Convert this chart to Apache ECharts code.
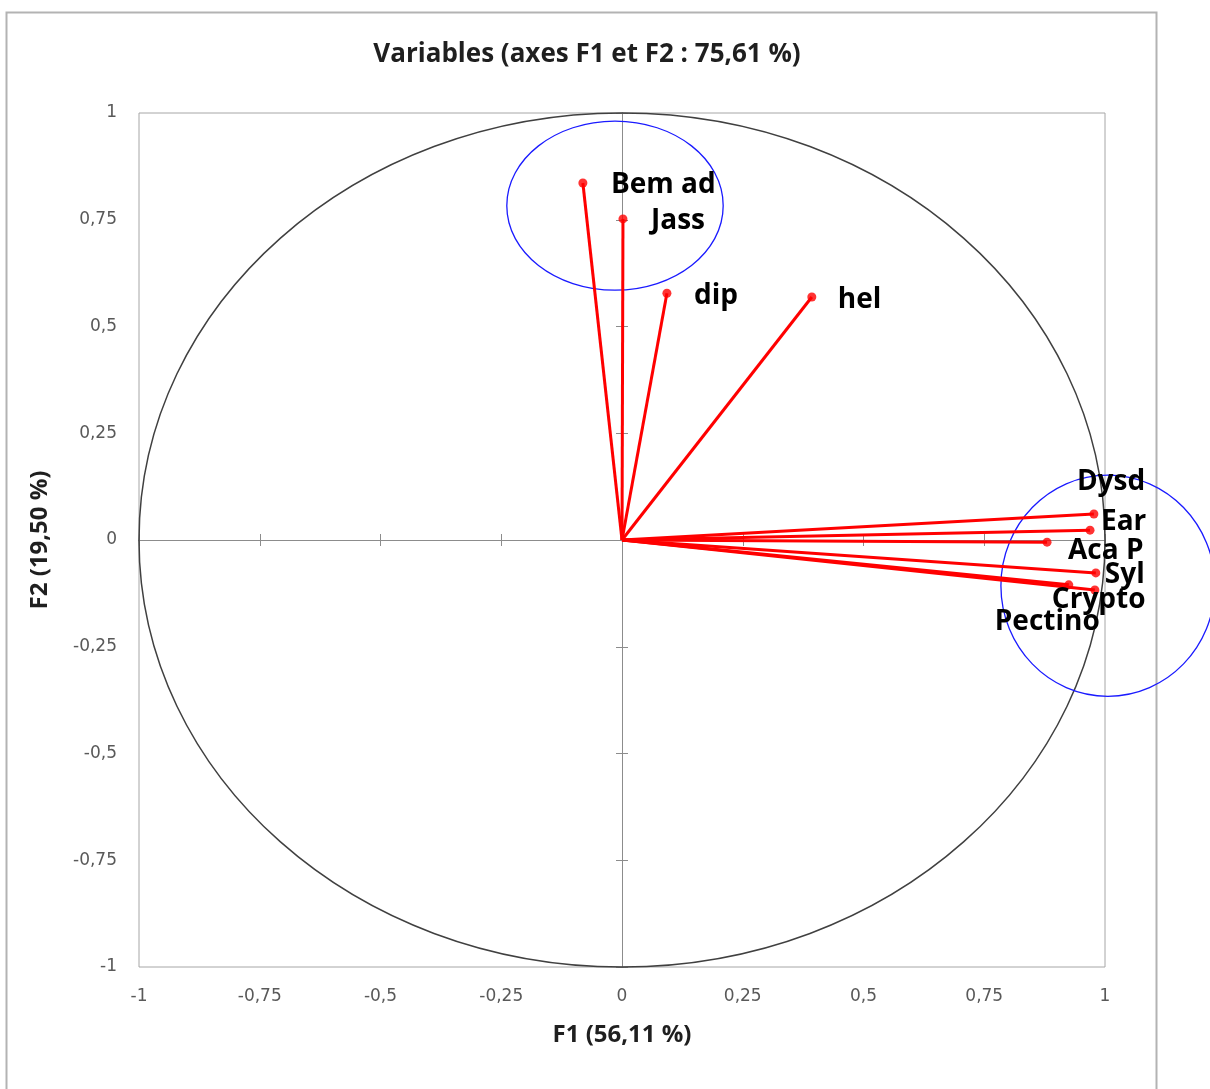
<!DOCTYPE html>
<html><head><meta charset="utf-8">
<script src="https://cdn.jsdelivr.net/npm/echarts@6/dist/echarts.min.js"></script>
<style>html,body{margin:0;padding:0;background:#fff}#c{width:1210px;height:1089px}</style>
</head><body><div id="c"></div>
<script>
// ---- data ----
const variables = ['Bem ad', 'Jass', 'dip', 'hel', 'Dysd', 'Ear', 'Aca P', 'Syl', 'Crypto', 'Pectino'];
const f1 = [-0.081, 0.002, 0.093, 0.393, 0.977, 0.969, 0.880, 0.981, 0.979, 0.925];
const f2 = [0.836, 0.752, 0.578, 0.569, 0.061, 0.023, -0.005, -0.077, -0.117, -0.105];
const axisMin = -1, axisMax = 1, tickStep = 0.25;
// reference shapes: correlation circle + two highlight ellipses (data units)
const shapeCx = [0, -0.0145, 1.006];
const shapeCy = [0, 0.783, -0.107];
const shapeRx = [1, 0.224, 0.2215];
const shapeRy = [1, 0.198, 0.259];

// ---- styles ----
const shapeColors = ['#404040', '#1a1aff', '#1a1aff'];
const shapeWidths = [1.5, 1.3, 1.3];
const labelOffsets = [[28, 2], [28, 2], [27, 3], [26, 3], [-17, -32], [11, -8], [21, 9], [9, 2], [-43, 10], [-74, 37]];
const FONT = 'Open Sans';
const TICKFONT = 'DejaVu Sans';
const fmt = v => String(v).replace('.', ',');

const baseAxis = {
  type: 'value', min: axisMin, max: axisMax, interval: tickStep,
  splitLine: { show: false }
};
function tickAxis(inside) {
  return Object.assign({}, baseAxis, {
    axisLine: { show: true, onZero: true, onZeroAxisIndex: 0, lineStyle: { color: '#8c8c8c', width: 1 } },
    axisTick: { show: true, inside: inside, length: 6, lineStyle: { color: '#8c8c8c', width: 1 } },
    axisLabel: { show: false }
  });
}

const chart = echarts.init(document.getElementById('c'), null, { renderer: 'canvas' });
chart.setOption({
  backgroundColor: '#fff',
  animation: false,
  title: {
    text: 'Variables (axes F1 et F2 : 75,61 %)',
    left: 582, top: 37, textAlign: 'center',
    textStyle: { fontFamily: FONT, fontWeight: 'bold', fontSize: 26, color: '#1f1f1f' }
  },
  graphic: [{
    type: 'rect', left: 4, top: 10, silent: true,
    shape: { width: 1150, height: 1100 },
    style: { fill: 'none', stroke: '#b3b3b3', lineWidth: 2 }
  }],
  grid: { left: 139, right: 105, top: 113, bottom: 122, show: true, borderColor: '#a6a6a6', borderWidth: 1, containLabel: false },
  xAxis: [
    Object.assign({}, baseAxis, {
      position: 'bottom',
      axisLine: { show: false, onZero: false }, axisTick: { show: false },
      axisLabel: { formatter: fmt, margin: 21, color: '#595959', fontSize: 17, fontFamily: TICKFONT },
      name: 'F1 (56,11 %)', nameLocation: 'middle', nameGap: 56,
      nameTextStyle: { fontFamily: FONT, fontWeight: 'bold', fontSize: 24, color: '#1f1f1f' }
    }),
    tickAxis(true), tickAxis(false)
  ],
  yAxis: [
    Object.assign({}, baseAxis, {
      position: 'left',
      axisLine: { show: false, onZero: false }, axisTick: { show: false },
      axisLabel: { formatter: fmt, margin: 22, color: '#595959', fontSize: 17, fontFamily: TICKFONT },
      name: 'F2 (19,50 %)', nameLocation: 'middle', nameGap: 87, nameRotate: 90,
      nameTextStyle: { fontFamily: FONT, fontWeight: 'bold', fontSize: 24, color: '#1f1f1f' }
    }),
    tickAxis(true), tickAxis(false)
  ],
  series: [
    {
      type: 'custom', clip: false, silent: true, z: 1,
      data: shapeCx.map((c, i) => [c, shapeCy[i], shapeRx[i], shapeRy[i]]),
      renderItem: (params, api) => {
        const c = api.coord([api.value(0), api.value(1)]);
        const s = api.size([api.value(2), api.value(3)]);
        return {
          type: 'ellipse',
          shape: { cx: c[0], cy: c[1], rx: s[0], ry: s[1] },
          style: { fill: 'none', stroke: shapeColors[params.dataIndex], lineWidth: shapeWidths[params.dataIndex] }
        };
      }
    },
    {
      type: 'lines', coordinateSystem: 'cartesian2d', z: 3, silent: true,
      data: variables.map((n, i) => ({ coords: [[0, 0], [f1[i], f2[i]]] })),
      lineStyle: { color: '#ff0000', width: 3, opacity: 1 }
    },
    {
      type: 'scatter', z: 4, symbol: 'circle', symbolSize: 9,
      itemStyle: { color: '#ff0000' },
      data: variables.map((n, i) => ({
        name: n, value: [f1[i], f2[i]],
        label: { offset: labelOffsets[i] }
      })),
      label: {
        show: true, position: 'inside', align: 'left', verticalAlign: 'middle',
        formatter: p => p.name,
        fontFamily: FONT, fontWeight: 'bold', fontSize: 28, color: '#000',
        textBorderWidth: 0, opacity: 1
      },
      emphasis: { disabled: true }
    }
  ]
});
</script></body></html>
